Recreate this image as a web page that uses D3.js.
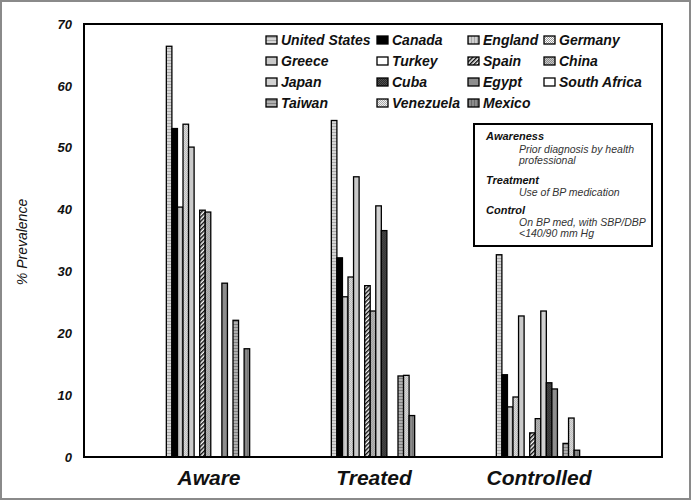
<!DOCTYPE html>
<html>
<head>
<meta charset="utf-8">
<script src="https://cdn.jsdelivr.net/npm/d3@7"></script>
<style>
  html, body { margin: 0; padding: 0; background: #fff; }
  svg { display: block; font-family: "Liberation Sans", Arial, sans-serif; }
</style>
</head>
<body>
<script>
// ---- data ----
const categories = ["Aware", "Treated", "Controlled"];
const countries = ["United States", "Canada", "England", "Germany", "Greece", "Turkey", "Spain", "China",
                   "Japan", "Cuba", "Egypt", "South Africa", "Taiwan", "Venezuela", "Mexico"];
const aware      = [66.4, 53.1, 40.4, 53.8, 50.1, null, 39.9, 39.6, null, null, 28.1, null, 22.1, null, 17.5];
const treated    = [54.4, 32.2, 25.9, 29.1, 45.3, null, 27.7, 23.6, 40.6, 36.6, null, null, 13.1, 13.2, 6.7];
const controlled = [32.7, 13.3, 8.1, 9.7, 22.8, null, 3.9, 6.2, 23.6, 12.0, 11.0, null, 2.2, 6.3, 1.1];
const yTicks = [0, 10, 20, 30, 40, 50, 60, 70];
const yLabel = "% Prevalence";
const noteLines = [
  {t: "Awareness", head: true},
  {t: "Prior diagnosis by health", head: false},
  {t: "professional", head: false},
  {t: "Treatment", head: true},
  {t: "Use of BP medication", head: false},
  {t: "Control", head: true},
  {t: "On BP med, with SBP/DBP", head: false},
  {t: "<140/90 mm Hg", head: false}
];
const seriesByCat = {Aware: aware, Treated: treated, Controlled: controlled};

// ---- layout ----
const W = 691, H = 500;
const plot = {left: 84, right: 662, top: 24, bottom: 457};

const svg = d3.select("body").append("svg").attr("width", W).attr("height", H);
const defs = svg.append("defs");

// patterns
function pat(id, bg, draw, size) {
  const p = defs.append("pattern").attr("id", id).attr("patternUnits", "userSpaceOnUse")
    .attr("width", size).attr("height", size);
  p.append("rect").attr("width", size).attr("height", size).attr("fill", bg);
  draw(p);
}
const hlines = (c) => (p) => p.append("rect").attr("x", 0).attr("y", 0).attr("width", 3).attr("height", 1).attr("fill", c);
const vlines = (c) => (p) => p.append("rect").attr("x", 0).attr("y", 0).attr("width", 1).attr("height", 3).attr("fill", c);
const checker = (c) => (p) => { p.append("rect").attr("x", 0).attr("y", 0).attr("width", 1).attr("height", 1).attr("fill", c);
                                 p.append("rect").attr("x", 1).attr("y", 1).attr("width", 1).attr("height", 1).attr("fill", c); };
pat("pUS", "#d6d6d6", hlines("#a8a8a8"), 3);
pat("pEng", "#cfcfcf", vlines("#a8a8a8"), 3);
pat("pGer", "#ffffff", checker("#9a9a9a"), 2);
pat("pChina", "#c8c8c8", checker("#8a8a8a"), 2);
pat("pCuba", "#505050", checker("#2a2a2a"), 2);
pat("pTaiwan", "#b0b0b0", hlines("#808080"), 3);
pat("pVen", "#f0f0f0", checker("#a8a8a8"), 2);
pat("pMex", "#8c8c8c", vlines("#6a6a6a"), 3);
// diagonal hatch
const sp = defs.append("pattern").attr("id", "pSpain").attr("patternUnits", "userSpaceOnUse")
  .attr("width", 3).attr("height", 3).attr("patternTransform", "rotate(45)");
sp.append("rect").attr("width", 3).attr("height", 3).attr("fill", "#fff");
sp.append("rect").attr("width", 1.5).attr("height", 3).attr("fill", "#111");

const fills = ["url(#pUS)", "#000000", "url(#pEng)", "url(#pGer)", "#cacaca", "#ffffff", "url(#pSpain)", "url(#pChina)",
               "#d2d2d2", "url(#pCuba)", "#8e8e8e", "#ffffff", "url(#pTaiwan)", "url(#pVen)", "url(#pMex)"];
const color = d3.scaleOrdinal().domain(countries).range(fills);

// outer border
svg.append("rect").attr("x", 1).attr("y", 1).attr("width", W - 2).attr("height", H - 2)
  .attr("fill", "#fff").attr("stroke", "#8a8a8a").attr("stroke-width", 2);

// scales
const y = d3.scaleLinear().domain([0, 70]).range([plot.bottom, plot.top]);
const x0 = d3.scaleBand().domain(categories).range([plot.left + 41.5, plot.right - 41.5])
  .paddingInner(0.495).paddingOuter(0.2475);
const x1 = d3.scaleBand().domain(countries).range([0, x0.bandwidth()]);

// y axis labels (no line)
const yAxis = d3.axisLeft(y).tickValues(yTicks).tickSize(0).tickPadding(12);
const gy = svg.append("g").attr("transform", `translate(${plot.left},0)`).call(yAxis);
gy.select(".domain").remove();
gy.selectAll("text").attr("font-size", 13).attr("font-weight", "bold").attr("font-style", "italic")
  .attr("fill", "#111").attr("font-family", "Liberation Sans, Arial, sans-serif");

// bars
const groups = svg.append("g").selectAll("g").data(categories).join("g")
  .attr("transform", d => `translate(${x0(d)},0)`);
groups.selectAll("rect")
  .data(cat => countries.map((c, i) => ({c, v: seriesByCat[cat][i]})).filter(d => d.v != null))
  .join("rect")
  .attr("x", d => x1(d.c))
  .attr("width", x1.bandwidth())
  .attr("y", d => y(d.v))
  .attr("height", d => y(0) - y(d.v))
  .attr("fill", d => color(d.c))
  .attr("stroke", "#000").attr("stroke-width", 1.3);

// plot frame
svg.append("rect").attr("x", plot.left).attr("y", plot.top)
  .attr("width", plot.right - plot.left).attr("height", plot.bottom - plot.top)
  .attr("fill", "none").attr("stroke", "#000").attr("stroke-width", 2);

// x category labels
const xAxis = d3.axisBottom(x0).tickSize(0).tickPadding(13);
const gx = svg.append("g").attr("transform", `translate(1,${plot.bottom})`).call(xAxis);
gx.select(".domain").remove();
gx.selectAll("text").attr("font-size", 21).attr("font-weight", "bold").attr("font-style", "italic")
  .attr("fill", "#111").attr("font-family", "Liberation Sans, Arial, sans-serif");

// y label
svg.append("text").attr("transform", `translate(27,242) rotate(-90)`).attr("text-anchor", "middle")
  .attr("font-size", 14).attr("font-style", "italic").attr("fill", "#111").text(yLabel);

// legend
const legCols = [266, 377, 468, 544];
const legRows = [40, 61, 82, 103];
const leg = svg.append("g");
countries.forEach((c, i) => {
  const col = i % 4, row = Math.floor(i / 4);
  const g = leg.append("g").attr("transform", `translate(${legCols[col]},${legRows[row]})`);
  g.append("rect").attr("x", 0).attr("y", -4).attr("width", 11).attr("height", 8)
    .attr("fill", color(c)).attr("stroke", "#000").attr("stroke-width", 1.3);
  g.append("text").attr("x", 15).attr("y", 5).attr("font-size", 14).attr("font-weight", "bold")
    .attr("font-style", "italic").attr("fill", "#111").text(c);
});

// note box
svg.append("rect").attr("x", 474).attr("y", 124).attr("width", 178).attr("height", 122)
  .attr("fill", "#fff").attr("stroke", "#000").attr("stroke-width", 2);
const noteY = [140, 153, 164, 184, 196, 214, 226, 237];
noteLines.forEach((l, i) => {
  svg.append("text").attr("x", l.head ? 486 : 519).attr("y", noteY[i])
    .attr("font-size", l.head ? 11 : 10.5).attr("font-weight", l.head ? "bold" : "normal")
    .attr("font-style", "italic").attr("fill", l.head ? "#111" : "#333").text(l.t);
});
</script>
</body>
</html>
